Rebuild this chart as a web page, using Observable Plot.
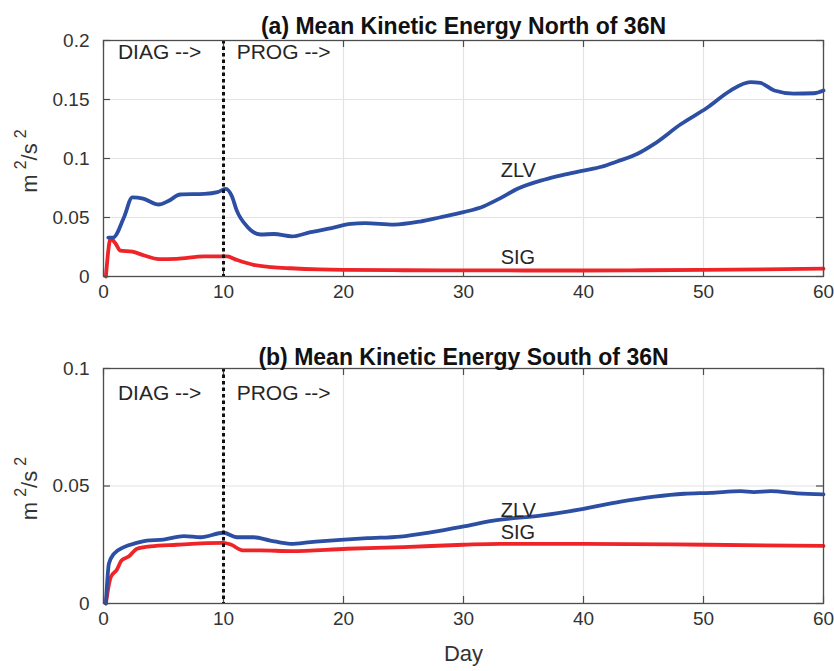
<!DOCTYPE html>
<html>
<head>
<meta charset="utf-8">
<script src="https://cdn.jsdelivr.net/npm/d3@7"></script>
<script src="https://cdn.jsdelivr.net/npm/@observablehq/plot@0.6"></script>
<style>
  html, body { margin: 0; padding: 0; background: #fff; }
  #wrap { position: relative; width: 834px; height: 671px; font-family: "Liberation Sans", Arial, sans-serif; }
  #wrap > div { position: absolute; left: 0; }
</style>
</head>
<body>
<div id="wrap"><div id="top" style="top:0"></div><div id="bot" style="top:330px"></div></div>
<script>
// ---- data ----
const xTicks = [0, 10, 20, 30, 40, 50, 60];
const yTicksNorth = [0, 0.05, 0.1, 0.15, 0.2];
const yTicksSouth = [0, 0.05, 0.1];
const titleNorth = "(a) Mean Kinetic Energy North of 36N";
const titleSouth = "(b) Mean Kinetic Energy South of 36N";
const xLabel = "Day";
const yLabelParts = ["m", "2", "/s", "2"];
const switchDay = 10;

const zlvNorthDay = [0.4,0.8,1.7,2.4,3.3,4.6,5.4,6.4,8.4,9.5,10.2,10.7,11.1,12,13.1,14.2,15.7,17.25,19,20.6,21.8,24.2,26.4,28,30,31.7,33,34.5,36.7,38.5,40,41.5,42.8,44.5,45.9,48.1,50.3,52.25,53.9,54.75,55.9,57.5,59.2,60];
const zlvNorthVal = [0.033,0.033,0.050,0.067,0.066,0.061,0.064,0.0695,0.070,0.0715,0.0743,0.068,0.056,0.042,0.0356,0.036,0.034,0.0376,0.041,0.0446,0.0452,0.044,0.0466,0.050,0.0545,0.0596,0.066,0.0743,0.082,0.0865,0.0898,0.093,0.0975,0.104,0.1124,0.129,0.143,0.1576,0.1647,0.164,0.1576,0.155,0.1553,0.1576];

const sigNorthDay = [0.2,0.6,1,1.4,2.4,3.4,4.6,6.1,8.4,10.3,11.1,12.5,14,15.6,18,20,25,30,35,40,45,50,55,60];
const sigNorthVal = [0,0.032,0.028,0.022,0.021,0.0178,0.0147,0.015,0.017,0.017,0.0141,0.0099,0.008,0.007,0.006,0.0056,0.0053,0.0052,0.0051,0.0051,0.0053,0.0056,0.006,0.0066];

const zlvSouthDay = [0.2,0.45,0.86,1.7,2.7,3.6,5,6.7,8.1,10,11.1,12.5,13.9,15.6,17.25,19.75,22,24.75,27.25,30,32.5,36.4,40,43.1,45.9,48.4,50.6,53.1,54.2,55.6,57.8,60];
const zlvSouthVal = [0,0.0169,0.0211,0.024,0.0257,0.0268,0.0272,0.0287,0.0282,0.0301,0.0282,0.0282,0.0268,0.0254,0.0261,0.0271,0.0278,0.0285,0.0303,0.0328,0.0353,0.0374,0.0403,0.0434,0.0455,0.0467,0.0471,0.0478,0.0474,0.0478,0.0469,0.0464];

const sigSouthDay = [0.2,0.6,1.1,1.5,2.1,2.8,3.9,6.1,10,10.6,11.6,13.1,15.6,20.3,25,30,33,40,50.3,60];
const sigSouthVal = [0,0.0112,0.0143,0.0183,0.02,0.0233,0.0243,0.025,0.0258,0.0251,0.0226,0.0226,0.0223,0.0233,0.024,0.025,0.0254,0.0254,0.025,0.0245];

// label positions (data coords)
const phaseLabels = [{name: "DIAG -->", day: 1.2}, {name: "PROG -->", day: 11.1}];
const seriesLabelDay = 33.1;
const northLabels = [{name: "ZLV", v: 0.0898}, {name: "SIG", v: 0.0157}];
const southLabels = [{name: "ZLV", v: 0.0396}, {name: "SIG", v: 0.0302}];

const BLUE = "#2c4ea3", RED = "#ee2428";
const TXT = "#262626";
const fmt = d => d === 0 ? "0" : String(d);
const zip = (xs, ys) => xs.map((x, i) => ({x, y: ys[i]}));

function panel({height, mt, mb, ymax, yTicks, title, titleDy, zlv, sig, labels, phaseY, showXLabel}) {
  const plotH = height - mt - mb;
  const plotW = 834 - 103 - 11;
  const tk = 7;
  const svg = Plot.plot({
    width: 834, height,
    marginLeft: 103, marginRight: 11, marginTop: mt, marginBottom: mb,
    style: {fontFamily: '"Liberation Sans", Arial, sans-serif', color: TXT, background: "white"},
    x: {domain: [0, 60]},
    y: {domain: [0, ymax]},
    marks: [
      Plot.gridX(xTicks, {stroke: "#e3e3e3", strokeOpacity: 1, strokeWidth: 1.2}),
      Plot.gridY(yTicks, {stroke: "#e3e3e3", strokeOpacity: 1, strokeWidth: 1.2}),
      // inward ticks on all four sides
      Plot.tickX(xTicks, {x: d => d, insetTop: plotH - tk, stroke: "#4d4d4d", strokeWidth: 1.2}),
      Plot.tickX(xTicks, {x: d => d, insetBottom: plotH - tk, stroke: "#4d4d4d", strokeWidth: 1.2}),
      Plot.tickY(yTicks, {y: d => d, insetRight: plotW - tk, stroke: "#4d4d4d", strokeWidth: 1.2}),
      Plot.tickY(yTicks, {y: d => d, insetLeft: plotW - tk, stroke: "#4d4d4d", strokeWidth: 1.2}),
      Plot.axisX(xTicks, {tickSize: 0, tickPadding: 8, fontSize: 19, label: null, tickFormat: fmt, fill: "#333"}),
      Plot.axisY(yTicks, {tickSize: 0, tickPadding: 14, fontSize: 19, label: null, tickFormat: fmt, fill: "#333"}),
      Plot.line(sig, {x: "x", y: "y", stroke: RED, strokeWidth: 3.8, curve: "monotone-x"}),
      Plot.line(zlv, {x: "x", y: "y", stroke: BLUE, strokeWidth: 3.8, curve: "monotone-x"}),
      Plot.ruleX([switchDay], {stroke: "#111", strokeWidth: 3, strokeDasharray: "3.5,3"}),
      Plot.frame({stroke: "#4d4d4d", strokeWidth: 1.3}),
      Plot.text(phaseLabels, {x: "day", y: () => phaseY, text: "name", textAnchor: "start", fontSize: 21, fill: TXT}),
      Plot.text(labels, {x: () => seriesLabelDay, y: "v", text: "name", textAnchor: "start", fontSize: 20, fill: TXT}),
      Plot.text([title], {frameAnchor: "top", dy: titleDy, fontSize: 23, fontWeight: "bold", fill: "#111"}),
      ...(showXLabel ? [Plot.text([xLabel], {frameAnchor: "bottom", dy: 57, fontSize: 22, fill: "#333"})] : [])
    ]
  });
  // y-axis label with superscripts (m^2/s^2)
  const cy = mt + plotH / 2 + 3;
  const t = d3.select(svg).append("text")
    .attr("transform", `translate(37,${cy}) rotate(-90)`)
    .attr("text-anchor", "middle")
    .attr("font-family", '"Liberation Sans", Arial, sans-serif')
    .attr("font-size", 22)
    .attr("fill", "#333");
  t.append("tspan").text(yLabelParts[0]);
  t.append("tspan").attr("dx", 5).attr("dy", -11).attr("font-size", 16).text(yLabelParts[1]);
  t.append("tspan").attr("dy", 11).text(yLabelParts[2]);
  t.append("tspan").attr("dx", 5).attr("dy", -11).attr("font-size", 16).text(yLabelParts[3]);
  return svg;
}

document.getElementById("top").appendChild(panel({
  height: 310, mt: 40, mb: 34, ymax: 0.2, yTicks: yTicksNorth, title: titleNorth, titleDy: -23,
  zlv: zip(zlvNorthDay, zlvNorthVal), sig: zip(sigNorthDay, sigNorthVal), labels: northLabels, phaseY: 0.19, showXLabel: false
}));
document.getElementById("bot").appendChild(panel({
  height: 341, mt: 38, mb: 68, ymax: 0.1, yTicks: yTicksSouth, title: titleSouth, titleDy: -20,
  zlv: zip(zlvSouthDay, zlvSouthVal), sig: zip(sigSouthDay, sigSouthVal), labels: southLabels, phaseY: 0.0894, showXLabel: true
}));
</script>
</body>
</html>
